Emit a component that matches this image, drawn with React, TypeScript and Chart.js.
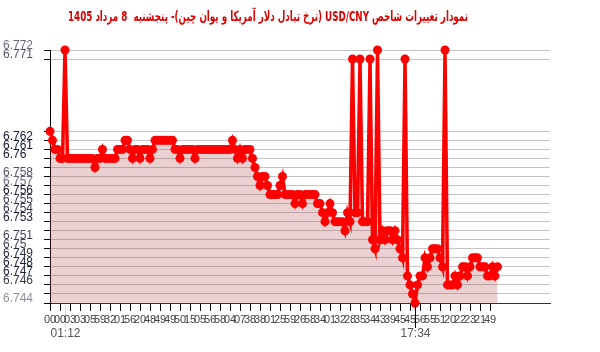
import React, { useEffect, useRef } from 'react';
import { Chart, registerables } from 'chart.js';

Chart.register(...registerables);

const titleText = 'نمودار تغییرات شاخص USD/CNY (نرخ تبادل دلار آمریکا و یوان چین)- پنجشنبه  8 مرداد 1405';

const values: number[] = [
  6.763, 6.762, 6.761, 6.761, 6.760, 6.760, 6.772, 6.760, 6.760, 6.760,
  6.760, 6.760, 6.760, 6.760, 6.760, 6.760, 6.760, 6.760, 6.759, 6.760,
  6.760, 6.761, 6.760, 6.760, 6.760, 6.760, 6.760, 6.761, 6.761, 6.761,
  6.762, 6.762, 6.761, 6.760, 6.761, 6.761, 6.760, 6.761, 6.761, 6.761,
  6.760, 6.761, 6.762, 6.762, 6.762, 6.762, 6.762, 6.762, 6.762, 6.762,
  6.761, 6.761, 6.760, 6.761, 6.761, 6.761, 6.761, 6.761, 6.760, 6.761,
  6.761, 6.761, 6.761, 6.761, 6.761, 6.761, 6.761, 6.761, 6.761, 6.761,
  6.761, 6.761, 6.761, 6.762, 6.761, 6.760, 6.761, 6.760, 6.761, 6.761,
  6.761, 6.760, 6.759, 6.758, 6.757, 6.758, 6.758, 6.757, 6.756, 6.756,
  6.756, 6.756, 6.757, 6.758, 6.756, 6.756, 6.756, 6.756, 6.755, 6.756,
  6.756, 6.755, 6.756, 6.756, 6.756, 6.756, 6.756, 6.755, 6.755, 6.754,
  6.753, 6.754, 6.755, 6.754, 6.753, 6.753, 6.753, 6.753, 6.752, 6.754,
  6.753, 6.771, 6.754, 6.754, 6.771, 6.753, 6.753, 6.753, 6.771, 6.751,
  6.750, 6.772, 6.751, 6.752, 6.751, 6.752, 6.752, 6.751, 6.752, 6.751,
  6.750, 6.749, 6.771, 6.747, 6.746, 6.745, 6.744, 6.746, 6.747, 6.747,
  6.749, 6.748, 6.749, 6.750, 6.750, 6.750, 6.749, 6.748, 6.772, 6.746,
  6.746, 6.746, 6.747, 6.746, 6.747, 6.748, 6.748, 6.747, 6.748, 6.749,
  6.749, 6.749, 6.748, 6.748, 6.748, 6.747, 6.747, 6.748, 6.747, 6.748,
];

// one tick label every `tickEvery` points
const tickEvery = 4;
const xTickLabels: string[] = [
  '00', '00', '03', '03', '05', '59', '32', '01', '56', '20',
  '48', '49', '49', '50', '15', '05', '56', '58', '04', '07',
  '38', '38', '01', '25', '59', '26', '58', '34', '01', '32',
  '28', '35', '34', '43', '39', '45', '45', '56', '55', '51',
  '20', '22', '23', '21', '49',
];

const maxTimeLabel = '01:12';
const minTimeLabel = '17:34';

const yTickValues: number[] = [
  6.744, 6.745, 6.746, 6.747, 6.748, 6.749, 6.750, 6.751, 6.752, 6.753,
  6.754, 6.755, 6.756, 6.757, 6.758, 6.759, 6.760, 6.761, 6.762, 6.763,
  6.771, 6.772,
];
const yLabelled: number[] = [
  6.744, 6.746, 6.747, 6.748, 6.749, 6.75, 6.751, 6.753, 6.754, 6.755,
  6.756, 6.757, 6.758, 6.76, 6.761, 6.762, 6.771, 6.772,
];

const xMax = 200;
const yMin = 6.744;
const yMax = 6.772;

const same = (a: number, b: number) => Math.abs(a - b) < 1e-7;

function labelColor(v: number): string {
  const count = values.filter((d) => same(d, v)).length;
  const a = Math.max(0.5, Math.min(1, 1 - Math.pow(0.7, count)));
  return `rgba(20,24,48,${a.toFixed(2)})`;
}

const titlePlugin = {
  id: 'rtlTitle',
  afterDraw(chart: any) {
    const ctx = chart.ctx;
    ctx.save();
    ctx.font = 'bold 14px "DejaVu Sans"';
    ctx.fillStyle = '#e00000';
    ctx.direction = 'rtl';
    ctx.textAlign = 'center';
    ctx.textBaseline = 'middle';
    ctx.fillText(titleText, 268, 17, 400);
    ctx.restore();
  },
};

const extremesPlugin = {
  id: 'extremes',
  afterDraw(chart: any) {
    const ctx = chart.ctx;
    const xs = chart.scales.x;
    const bottom = chart.chartArea.bottom;
    const maxIdx = values.indexOf(Math.max(...values));
    const minIdx = values.indexOf(Math.min(...values));
    const items = [
      { idx: maxIdx, text: maxTimeLabel, line: 'rgba(0,0,0,0.15)' },
      { idx: minIdx, text: minTimeLabel, line: '#000' },
    ];
    ctx.save();
    items.forEach((it) => {
      const x = Math.round(xs.getPixelForValue(it.idx)) + 0.5;
      ctx.strokeStyle = it.line;
      ctx.lineWidth = 1;
      ctx.beginPath();
      ctx.moveTo(x, bottom + 2);
      ctx.lineTo(x, bottom + 25);
      ctx.stroke();
      ctx.font = '12px "Liberation Sans"';
      ctx.fillStyle = '#555';
      ctx.textAlign = 'center';
      ctx.textBaseline = 'middle';
      ctx.fillText(it.text, x, bottom + 31);
    });
    ctx.restore();
  },
};

export default function App() {
  const ref = useRef<HTMLCanvasElement | null>(null);

  useEffect(() => {
    document.body.style.margin = '0';
    const canvas = ref.current;
    if (!canvas) return;
    const chart = new Chart(canvas, {
      type: 'line',
      data: {
        datasets: [
          {
            data: values.map((v, i) => ({ x: i, y: v })),
            borderColor: '#ff0000',
            borderWidth: 3.5,
            backgroundColor: 'rgba(160,40,40,0.22)',
            pointBackgroundColor: '#ff0000',
            pointBorderColor: '#ff0000',
            pointBorderWidth: 0,
            pointRadius: 4.5,
            pointHoverRadius: 4.5,
            fill: 'start',
            tension: 0,
            clip: 10,
          },
        ],
      },
      options: {
        responsive: false,
        animation: false,
        events: [],
        layout: { padding: { top: 50, right: 50, left: 3, bottom: 0 } },
        plugins: {
          legend: { display: false },
          title: { display: false },
          tooltip: { enabled: false },
        },
        scales: {
          x: {
            type: 'linear',
            min: 0,
            max: xMax,
            afterBuildTicks: (scale: any) => {
              scale.ticks = xTickLabels.map((_, k) => ({ value: k * tickEvery }));
            },
            afterFit: (scale: any) => {
              scale.height = 49;
            },
            grid: {
              drawOnChartArea: false,
              drawTicks: true,
              tickLength: 8,
              color: '#000',
              tickColor: '#000',
            },
            border: { display: true, color: '#333' },
            ticks: {
              autoSkip: false,
              maxRotation: 0,
              minRotation: 0,
              padding: 2,
              color: '#444',
              font: { family: 'Liberation Sans', size: 11 },
              callback: (_v: any, i: number) => xTickLabels[i],
            },
          },
          y: {
            type: 'linear',
            min: yMin,
            max: yMax,
            afterBuildTicks: (scale: any) => {
              scale.ticks = yTickValues.map((v) => ({ value: v }));
            },
            afterFit: (scale: any) => {
              scale.width = 47;
            },
            grid: {
              color: '#c4c4c4',
              tickColor: '#000',
              tickLength: 6,
              drawTicks: true,
            },
            border: { display: true, color: '#000' },
            ticks: {
              autoSkip: false,
              crossAlign: 'far',
              labelOffset: -4,
              font: { family: 'Liberation Sans', size: 12 },
              color: (ctx: any) => labelColor(ctx.tick ? ctx.tick.value : 0),
              callback: (v: any) =>
                yLabelled.some((l) => same(l, Number(v))) ? String(+Number(v).toFixed(3)) : '',
            },
          },
        },
      },
      plugins: [titlePlugin, extremesPlugin],
    } as any);
    return () => chart.destroy();
  }, []);

  return (
    <div style={{ width: 600, height: 352 }}>
      <canvas ref={ref} width={600} height={352} style={{ display: 'block' }} />
    </div>
  );
}
